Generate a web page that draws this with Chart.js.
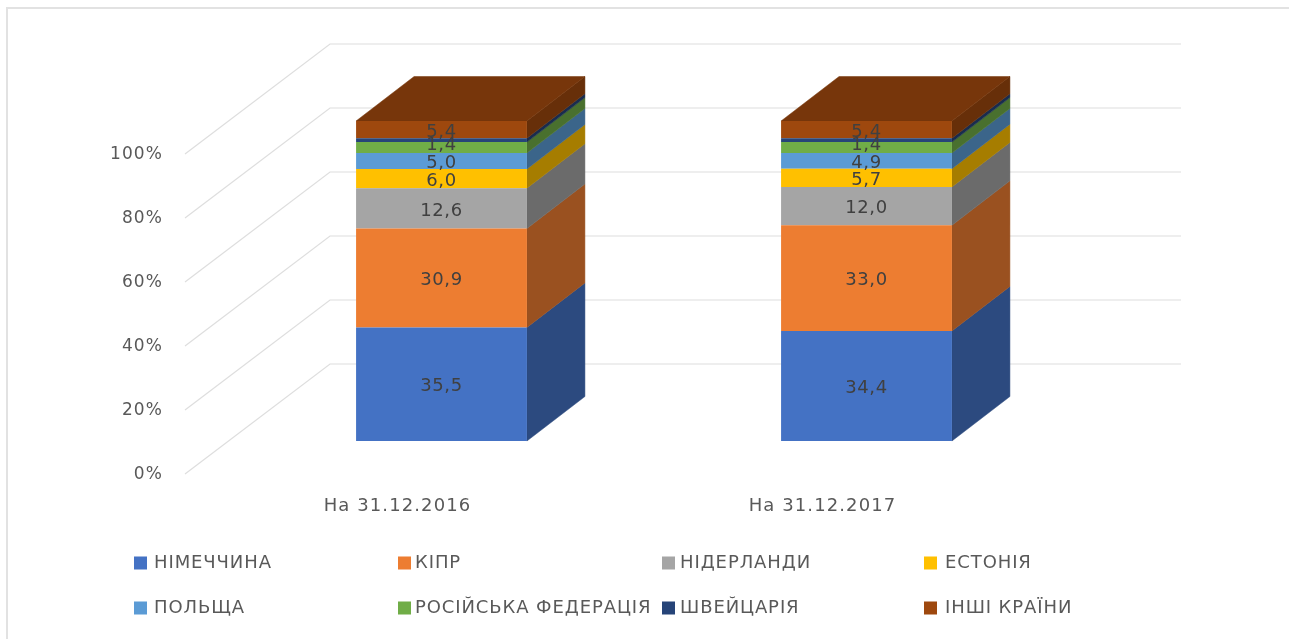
<!DOCTYPE html>
<html lang="uk">
<head>
<meta charset="utf-8">
<style>
html,body{margin:0;padding:0;background:#fff;overflow:hidden}
#wrap{width:1289px;height:639px}
canvas{filter:blur(0.6px)}
</style>
<script src="https://cdn.jsdelivr.net/npm/chart.js@4/dist/chart.umd.min.js"></script>
</head>
<body>
<div id="wrap"><canvas id="c" width="1289" height="639"></canvas></div>
<script>
const categories = ['На 31.12.2016', 'На 31.12.2017'];
const seriesNames = ['НІМЕЧЧИНА','КІПР','НІДЕРЛАНДИ','ЕСТОНІЯ','ПОЛЬЩА','РОСІЙСЬКА ФЕДЕРАЦІЯ','ШВЕЙЦАРІЯ','ІНШІ КРАЇНИ'];
const germany     = [35.5, 34.4];
const cyprus      = [30.9, 33.0];
const netherlands = [12.6, 12.0];
const estonia     = [6.0, 5.7];
const poland      = [5.0, 4.9];
const russia      = [3.4, 3.4];
const switzerland = [1.2, 1.2];
const others      = [5.4, 5.4];
const seriesValues = [germany, cyprus, netherlands, estonia, poland, russia, switzerland, others];
const seriesColors = ['#4472C4','#ED7D31','#A5A5A5','#FFC000','#5B9BD5','#70AD47','#264478','#9E480E'];
// Printed labels, as they can be read in the picture
const russiaLabels = ['1,4','1,4'];
const seriesLabels = [
  germany.map(fmt), cyprus.map(fmt), netherlands.map(fmt), estonia.map(fmt),
  poland.map(fmt), russiaLabels, [null,null], others.map(fmt)
];
const yTicksStep = 20;

function fmt(v){ return v.toFixed(1).replace('.',','); }
function shade(hex,f){
  const n=parseInt(hex.slice(1),16);
  return 'rgb('+[(n>>16)&255,(n>>8)&255,n&255].map(c=>Math.round(c*f)).join(',')+')';
}

const FONT = '"DejaVu Sans", sans-serif';
const TEXT = '#595959';
const depth = {dx:58, dy:44.5};       // bar depth
const wall  = {dx:101, dy:77};        // scale plane to back wall
const floorFront = {dx:44, dy:33};    // scale plane to front of the floor

const frame3d = {
  id:'frame3d',
  beforeDraw(chart){
    const {ctx,scales:{y},chartArea:a}=chart;
    ctx.save();
    ctx.fillStyle='#fff';ctx.fillRect(0,0,chart.width,chart.height);
    ctx.strokeStyle='#e2e2e2';ctx.lineWidth=2;
    ctx.beginPath();ctx.moveTo(1289,8);ctx.lineTo(7,8);ctx.lineTo(7,639);ctx.stroke();
    ctx.strokeStyle='#dedede';ctx.lineWidth=1.2;
    y.ticks.forEach(t=>{
      const p=y.getPixelForValue(t.value);
      ctx.beginPath();
      ctx.moveTo(a.left-floorFront.dx,p+floorFront.dy);
      ctx.lineTo(a.left+wall.dx,p-wall.dy);
      ctx.lineTo(a.right+wall.dx+1,p-wall.dy);
      ctx.stroke();
    });
    ctx.restore();
    ctx.letterSpacing='1.1px';
  },
  beforeDatasetsDraw(chart){
    const {ctx}=chart;
    ctx.save();
    chart.data.datasets.forEach((ds,i)=>{
      const meta=chart.getDatasetMeta(i);
      meta.data.forEach(b=>{
        const r=b.x+b.width/2,l=b.x-b.width/2;
        const side=shade(ds.backgroundColor,0.65);
        ctx.fillStyle=side;ctx.strokeStyle=side;ctx.lineWidth=0.5;
        ctx.beginPath();
        ctx.moveTo(r,b.y);ctx.lineTo(r+depth.dx,b.y-depth.dy);
        ctx.lineTo(r+depth.dx,b.base-depth.dy);ctx.lineTo(r,b.base);
        ctx.closePath();ctx.fill();ctx.stroke();
        if(i===chart.data.datasets.length-1){
          const top=shade(ds.backgroundColor,0.75);
          ctx.fillStyle=top;ctx.strokeStyle=top;
          ctx.beginPath();
          ctx.moveTo(l,b.y);ctx.lineTo(l+depth.dx,b.y-depth.dy);
          ctx.lineTo(r+depth.dx,b.y-depth.dy);ctx.lineTo(r,b.y);
          ctx.closePath();ctx.fill();ctx.stroke();
        }
      });
    });
    ctx.restore();
  },
  afterDatasetsDraw(chart){
    const {ctx}=chart;
    ctx.save();
    ctx.font='18px '+FONT;ctx.fillStyle='#404040';
    ctx.textAlign='center';ctx.textBaseline='middle';ctx.letterSpacing='0.6px';
    chart.data.datasets.forEach((ds,i)=>{
      chart.getDatasetMeta(i).data.forEach((b,j)=>{
        const t=seriesLabels[i][j];
        if(!t) return;
        // The Russia label sits high in its thin band, next to the Switzerland band
        const yc = i===5 ? b.y+3 : (b.y+b.base)/2+2.5;
        ctx.fillText(t,b.x,yc);
      });
    });
    ctx.restore();
  },
  afterDraw(chart){
    const {ctx}=chart;
    const cols=[134,398,662,924], rows=[563,608], box=13, gaps=[7,4,5,8];
    ctx.save();
    ctx.font='18px '+FONT;ctx.textBaseline='middle';ctx.textAlign='left';
    ctx.letterSpacing='0.9px';
    chart.data.datasets.forEach((ds,i)=>{
      const x=cols[i%4],y=rows[Math.floor(i/4)];
      ctx.fillStyle=ds.backgroundColor;
      ctx.fillRect(x,y-box/2,box,box);
      ctx.fillStyle=TEXT;
      ctx.fillText(ds.label,x+box+gaps[i%4],y);
    });
    ctx.restore();
    ctx.letterSpacing='0px';
  }
};

new Chart(document.getElementById('c'),{
  type:'bar',
  data:{
    labels:categories,
    datasets:seriesNames.map((name,i)=>({
      label:name,
      data:seriesValues[i],
      backgroundColor:seriesColors[i],
      borderWidth:0,
      barPercentage:1,
      categoryPercentage:0.402
    }))
  },
  options:{
    responsive:false,
    animation:false,
    layout:{padding:{left:0,top:121,right:210,bottom:0}},
    plugins:{legend:{display:false},tooltip:{enabled:false},title:{display:false}},
    scales:{
      x:{
        stacked:true,
        grid:{display:false,drawTicks:false},
        border:{display:false},
        ticks:{color:TEXT,font:{family:FONT,size:18},padding:55,labelOffset:-44,maxRotation:0},
        afterFit(s){s.height=198;}
      },
      y:{
        stacked:true,
        min:0,max:100,
        grid:{display:false,drawTicks:false},
        border:{display:false},
        ticks:{color:TEXT,font:{family:FONT,size:17},padding:66,labelOffset:34,stepSize:yTicksStep,callback:v=>v+'%'},
        afterFit(s){s.width=229;}
      }
    }
  },
  plugins:[frame3d]
});
</script>
</body>
</html>
